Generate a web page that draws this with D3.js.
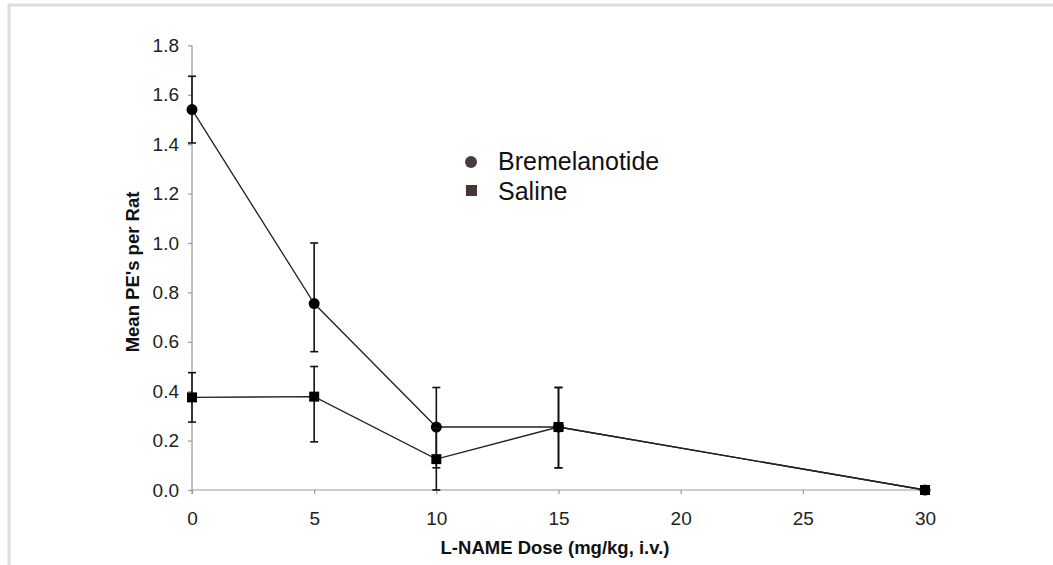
<!DOCTYPE html>
<html>
<head>
<meta charset="utf-8">
<script src="https://cdn.jsdelivr.net/npm/d3@7"></script>
<style>
  body{margin:0;background:#fff;}
  svg{display:block;font-family:"Liberation Sans",Arial,sans-serif;}
  .tick text{fill:#222;}
</style>
</head>
<body>
<svg id="chart" width="1053" height="565"></svg>
<script>
// doses (mg/kg) and mean PE's per rat, with upper / lower error ends
var doses = [0, 5, 10, 15, 30];
var bremelanotide = [1.54, 0.755, 0.255, 0.255, 0.0];
var bremUpper = [1.675, 1.0, 0.415, 0.415, null];
var bremLower = [1.405, 0.56, 0.09, 0.09, null];
var saline = [0.375, 0.378, 0.125, 0.255, 0.0];
var salineUpper = [0.475, 0.50, 0.25, 0.415, null];
var salineLower = [0.275, 0.195, 0.0, 0.09, null];
var xTicks = [0, 5, 10, 15, 20, 25, 30];
var yTicks = [0, 0.2, 0.4, 0.6, 0.8, 1.0, 1.2, 1.4, 1.6, 1.8];
var seriesNames = ["Bremelanotide", "Saline"];

var svg = d3.select("#chart");

//light frame round the figure
svg.append("line").attr("x1",8).attr("x2",1053).attr("y1",5).attr("y2",5)
    .attr("stroke","#dedede").attr("stroke-width",3);
svg.append("line").attr("x1",9).attr("x2",9).attr("y1",4).attr("y2",565)
    .attr("stroke","#dedede").attr("stroke-width",3);

var x = d3.scaleLinear().domain([0,30]).range([192,925]);
var y = d3.scaleLinear().domain([0,1.8]).range([490,45.4]);

//axes
var yAxis = svg.append("g").attr("transform","translate(192,0)")
    .call(d3.axisLeft(y).tickValues(yTicks).tickFormat(d3.format(".1f")).tickSize(4).tickPadding(9));
var xAxis = svg.append("g").attr("transform","translate(0,490)")
    .call(d3.axisBottom(x).tickValues(xTicks).tickFormat(d3.format("d")).tickSize(4).tickPadding(18));
[yAxis,xAxis].forEach(function(a){
    a.select(".domain").attr("stroke","#9a9a9a").attr("stroke-width",1.2);
    a.selectAll(".tick line").attr("stroke","#9a9a9a").attr("stroke-width",1.2);
    a.selectAll(".tick text").style("font-size","19px");
});
yAxis.select(".domain").attr("d","M0,45.4V494");
xAxis.select(".domain").attr("d","M192,0H925");

//axis titles
svg.append("text").attr("transform","translate(139,272) rotate(-90)")
    .attr("text-anchor","middle").style("font-size","18.5px").style("font-weight","bold")
    .attr("fill","#111").text("Mean PE's per Rat");
svg.append("text").attr("x",555).attr("y",554)
    .attr("text-anchor","middle").style("font-size","18.5px").style("font-weight","bold")
    .attr("fill","#111").text("L-NAME Dose (mg/kg, i.v.)");

var series = [
    {name:seriesNames[0], values:bremelanotide, upper:bremUpper, lower:bremLower, shape:"circle"},
    {name:seriesNames[1], values:saline, upper:salineUpper, lower:salineLower, shape:"square"}
];

var line = d3.line().x(function(d){return x(d.dose)}).y(function(d){return y(d.value)});

series.forEach(function(s){
    var pts = doses.map(function(d,i){
        return {dose:d, value:s.values[i], upper:s.upper[i], lower:s.lower[i]};
    });
    var g = svg.append("g");
    g.append("path").datum(pts).attr("d",line)
        .attr("fill","none").attr("stroke","#222").attr("stroke-width",1.3);
    //error bars
    var eb = g.selectAll("g.err").data(pts.filter(function(d){return d.upper!==null}))
        .enter().append("g").attr("class","err");
    eb.append("line")
        .attr("x1",function(d){return x(d.dose)}).attr("x2",function(d){return x(d.dose)})
        .attr("y1",function(d){return y(d.upper)}).attr("y2",function(d){return y(d.lower)})
        .attr("stroke","#111").attr("stroke-width",1.6);
    ["upper","lower"].forEach(function(k){
        eb.append("line")
            .attr("x1",function(d){return x(d.dose)-4}).attr("x2",function(d){return x(d.dose)+4})
            .attr("y1",function(d){return y(d[k])}).attr("y2",function(d){return y(d[k])})
            .attr("stroke","#111").attr("stroke-width",1.6);
    });
    //markers
    if (s.shape=="circle") {
        g.selectAll("circle").data(pts).enter().append("circle")
            .attr("cx",function(d){return x(d.dose)}).attr("cy",function(d){return y(d.value)})
            .attr("r",5.5).attr("fill","#000");
    }else{
        g.selectAll("rect").data(pts).enter().append("rect")
            .attr("x",function(d){return x(d.dose)-5}).attr("y",function(d){return y(d.value)-5})
            .attr("width",10).attr("height",10).attr("fill","#000");
    };
});

//legend
var legend = svg.append("g");
legend.append("circle").attr("cx",471).attr("cy",162).attr("r",6).attr("fill","#4a3c3c");
legend.append("rect").attr("x",466).attr("y",185).attr("width",11).attr("height",11).attr("fill","#4a3434");
legend.selectAll("text").data(seriesNames).enter().append("text")
    .attr("x",498).attr("y",function(d,i){return 170+i*30})
    .style("font-size","25px").attr("fill","#111")
    .text(function(d){return d});
</script>
</body>
</html>
